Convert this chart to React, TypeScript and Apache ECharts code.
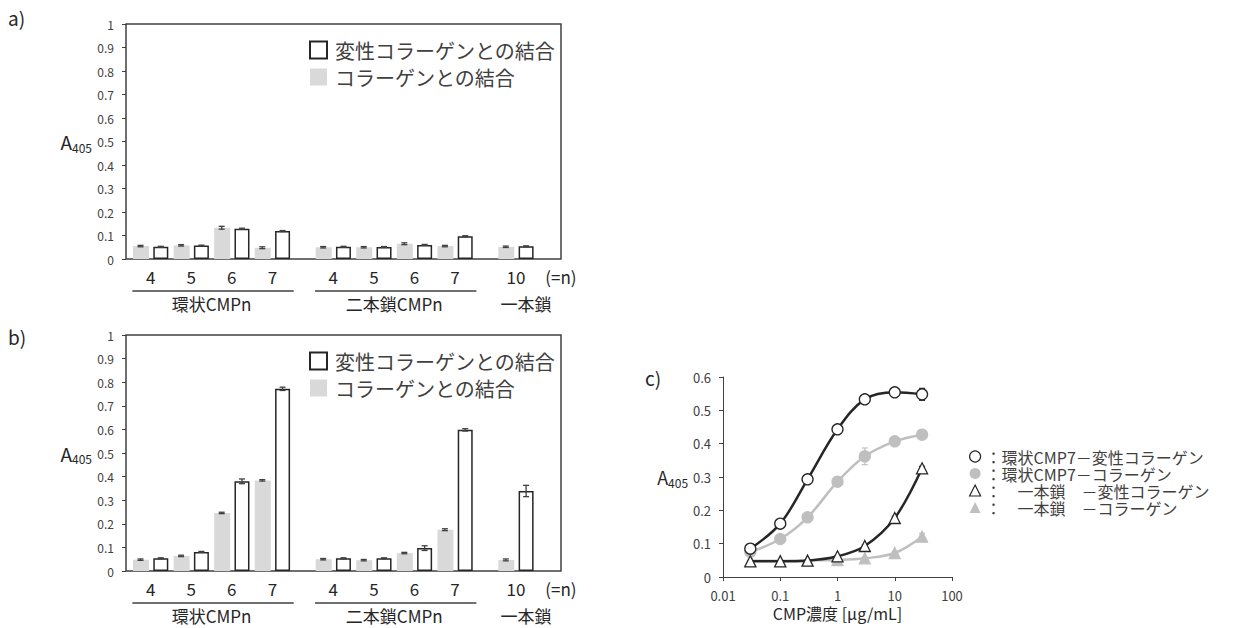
import React, { useEffect, useRef } from 'react';
import * as echarts from 'echarts';

// ---------- data ----------
const nLabels = ['4', '5', '6', '7', '4', '5', '6', '7', '10'];
const groupOfItem = [0, 0, 0, 0, 1, 1, 1, 1, 2];
const groupNames = ['環状CMPn', '二本鎖CMPn', '一本鎖'];
const groupUnderlined = [true, true, false];
const nUnitLabel = '(=n)';
const barLegendNames = ['変性コラーゲンとの結合', 'コラーゲンとの結合'];

// panel a
const aCollagen = [0.055, 0.058, 0.133, 0.048, 0.050, 0.050, 0.065, 0.055, 0.052];
const aCollagenErr = [0.003, 0.003, 0.006, 0.004, 0.003, 0.003, 0.004, 0.003, 0.003];
const aDenatured = [0.052, 0.057, 0.129, 0.119, 0.052, 0.051, 0.060, 0.097, 0.054];
const aDenaturedErr = [0.002, 0.002, 0.002, 0.002, 0.002, 0.002, 0.002, 0.002, 0.002];
// panel b
const bCollagen = [0.048, 0.064, 0.246, 0.384, 0.050, 0.046, 0.076, 0.175, 0.047];
const bCollagenErr = [0.003, 0.003, 0.003, 0.003, 0.003, 0.003, 0.003, 0.004, 0.004];
const bDenatured = [0.054, 0.081, 0.380, 0.772, 0.054, 0.054, 0.097, 0.598, 0.339];
const bDenaturedErr = [0.002, 0.002, 0.010, 0.007, 0.002, 0.002, 0.010, 0.005, 0.024];

// panel c
const conc = [0.03, 0.1, 0.3, 1, 3, 10, 30];
const cNames = [
  '：環状CMP7－変性コラーゲン',
  '：環状CMP7－コラーゲン',
  '：　一本鎖　－変性コラーゲン',
  '：　一本鎖　－コラーゲン',
];
const cCycDenat = [0.085, 0.160, 0.293, 0.443, 0.533, 0.554, 0.548];
const cCycDenatErr = [0.003, 0.004, 0.006, 0.005, 0.006, 0.005, 0.018];
const cCycColl = [0.075, 0.114, 0.179, 0.286, 0.362, 0.407, 0.427];
const cCycCollErr = [0.003, 0.004, 0.011, 0.006, 0.025, 0.012, 0.005];
const cSingleDenat = [0.047, 0.047, 0.049, 0.062, 0.093, 0.177, 0.326];
const cSingleDenatErr = [0.002, 0.002, 0.002, 0.003, 0.004, 0.005, 0.006];
const cSingleColl = [0.049, 0.049, 0.050, 0.051, 0.056, 0.072, 0.121];
const cSingleCollErr = [0.002, 0.002, 0.002, 0.002, 0.003, 0.004, 0.010];

// ---------- layout / style ----------
const FONT = "'Noto Sans CJK JP', 'Noto Sans', sans-serif";
const X_MIN = 0.285;
const X_MAX = 21.72;
const DARK = '#262626';
const AXIS = '#404040';
const GRAY = '#d9d9d9';
const CGRAY = '#bfbfbf';
const groupLabelShift = [0, 0, 0.5];

const slotOf = (i: number) => 1 + 2 * i + groupOfItem[i];
const pairCenter = (i: number) => slotOf(i) + 0.5;

const nLabelMap: Record<string, string> = {};
nLabels.forEach((l, i) => { nLabelMap[pairCenter(i).toFixed(3)] = l; });
nLabelMap[(X_MAX - 0.001).toFixed(3)] = nUnitLabel;
const nLabelValues = [...nLabels.map((_, i) => pairCenter(i)), X_MAX - 0.001];

const groupCenters = groupNames.map((_, g) => {
  const idx = groupOfItem.map((gg, i) => (gg === g ? i : -1)).filter((i) => i >= 0);
  const c = idx.reduce((s, i) => s + pairCenter(i), 0) / idx.length;
  return c + groupLabelShift[g];
});
const groupLabelMap: Record<string, string> = {};
groupNames.forEach((n, g) => { groupLabelMap[groupCenters[g].toFixed(3)] = n; });

const errRender = (color: string, cap: number, lw: number) => (_p: any, api: any) => {
  const x = api.value(0);
  const y = api.value(1);
  const e = api.value(2);
  const p1 = api.coord([x, y + e]);
  const p2 = api.coord([x, y - e]);
  const style = { stroke: color, lineWidth: lw };
  return {
    type: 'group',
    children: [
      { type: 'line', shape: { x1: p1[0], y1: p1[1], x2: p2[0], y2: p2[1] }, style },
      { type: 'line', shape: { x1: p1[0] - cap, y1: p1[1], x2: p1[0] + cap, y2: p1[1] }, style },
      { type: 'line', shape: { x1: p2[0] - cap, y1: p2[1], x2: p2[0] + cap, y2: p2[1] }, style },
    ],
  };
};

const yName = (size: number) => ({
  name: 'A{s|405}',
  nameLocation: 'middle',
  nameRotate: 0,
  nameTextStyle: {
    fontSize: size,
    lineHeight: size + 4,
    color: DARK,
    fontFamily: FONT,
    rich: { s: { fontSize: 12, lineHeight: 12, color: DARK, verticalAlign: 'bottom', fontFamily: FONT } },
  },
});

function barPanel(p: number, coll: number[], collErr: number[], den: number[], denErr: number[]) {
  const xa = p * 2;
  const ya = p;
  const series: any[] = [
    {
      type: 'bar', name: barLegendNames[1], xAxisIndex: xa, yAxisIndex: ya, barWidth: 16, barGap: '-100%',
      itemStyle: { color: GRAY },
      data: coll.map((v, i) => [slotOf(i), v]), z: 2,
    },
    {
      type: 'bar', name: barLegendNames[0], xAxisIndex: xa, yAxisIndex: ya, barWidth: 15, barGap: '-100%',
      itemStyle: { color: '#ffffff', borderColor: DARK, borderWidth: 1.5 },
      data: den.map((v, i) => [slotOf(i) + 1, v]), z: 2,
    },
    {
      type: 'custom', name: 'errColl' + p, xAxisIndex: xa, yAxisIndex: ya,
      renderItem: errRender(AXIS, 3, 1.3), encode: { x: 0, y: 1 },
      data: coll.map((v, i) => [slotOf(i), v, collErr[i]]), z: 5,
    },
    {
      type: 'custom', name: 'errDen' + p, xAxisIndex: xa, yAxisIndex: ya,
      renderItem: errRender(AXIS, 3, 1.3), encode: { x: 0, y: 1 },
      data: den.map((v, i) => [slotOf(i) + 1, v, denErr[i]]), z: 5,
    },
  ];
  const xAxes = [
    {
      type: 'value', gridIndex: p, min: X_MIN, max: X_MAX,
      axisLine: { show: false }, axisTick: { show: false }, splitLine: { show: false },
      axisLabel: {
        customValues: nLabelValues, margin: 9, fontSize: 17, color: DARK, fontFamily: FONT,
        formatter: (v: number) => nLabelMap[v.toFixed(3)] ?? '',
      },
    },
    {
      type: 'value', gridIndex: p, min: X_MIN, max: X_MAX, position: 'bottom', offset: 28,
      axisLine: { show: false }, axisTick: { show: false }, splitLine: { show: false },
      axisLabel: {
        customValues: groupCenters, margin: 8, fontSize: 17, lineHeight: 17, color: DARK, fontFamily: FONT,
        formatter: (v: number) => groupLabelMap[v.toFixed(3)] ?? '',
      },
    },
  ];
  const yAxis = {
    type: 'value', gridIndex: p, min: 0, max: 1, interval: 0.1,
    ...yName(19), nameGap: 34,
    axisLine: { show: false },
    axisTick: { show: true, length: 4, lineStyle: { color: AXIS, width: 1 } },
    splitLine: { show: false },
    axisLabel: { fontSize: 12, color: AXIS, margin: 12, fontFamily: FONT },
  };
  const legend = {
    orient: 'vertical', left: 304, top: p === 0 ? 35 : 346,
    itemWidth: 17, itemHeight: 17, itemGap: 7, selectedMode: false,
    textStyle: { fontSize: 20, lineHeight: 20, color: AXIS, fontFamily: FONT, padding: [0, 0, 0, 3] },
    data: [
      { name: barLegendNames[0], icon: 'rect', itemStyle: { color: '#ffffff', borderColor: DARK, borderWidth: 2 } },
      { name: barLegendNames[1], icon: 'rect', itemStyle: { color: GRAY, borderWidth: 0 } },
    ],
  };
  return { series, xAxes, yAxis, legend };
}

function lineSeries(name: string, vals: number[], errs: number[], symbol: string, fill: string, lineColor: string, z: number) {
  return [
    {
      type: 'custom', name: name + '-err', xAxisIndex: 4, yAxisIndex: 2,
      renderItem: errRender(lineColor, 3, 1.2), encode: { x: 0, y: 1 },
      data: conc.map((x, i) => [x, vals[i], errs[i]]), z: z - 1,
    },
    {
      type: 'line', name, xAxisIndex: 4, yAxisIndex: 2, smooth: 0.35,
      symbol, symbolSize: 11, showAllSymbol: true,
      lineStyle: { color: lineColor, width: 2.5 },
      itemStyle: { color: fill, borderColor: fill === '#ffffff' ? DARK : fill, borderWidth: 1.3 },
      data: conc.map((x, i) => [x, vals[i]]), z,
    },
  ];
}

function buildOption() {
  const pa = barPanel(0, aCollagen, aCollagenErr, aDenatured, aDenaturedErr);
  const pb = barPanel(1, bCollagen, bCollagenErr, bDenatured, bDenaturedErr);
  const cSeries = [
    ...lineSeries(cNames[1], cCycColl, cCycCollErr, 'circle', CGRAY, CGRAY, 4),
    ...lineSeries(cNames[3], cSingleColl, cSingleCollErr, 'triangle', CGRAY, CGRAY, 4),
    ...lineSeries(cNames[2], cSingleDenat, cSingleDenatErr, 'triangle', '#ffffff', DARK, 8),
    ...lineSeries(cNames[0], cCycDenat, cCycDenatErr, 'circle', '#ffffff', DARK, 8),
  ];
  return {
    animation: false,
    backgroundColor: '#ffffff',
    textStyle: { fontFamily: FONT },
    grid: [
      { left: 126, top: 24, width: 435, height: 235, show: true, borderColor: AXIS, borderWidth: 1.5, backgroundColor: 'transparent' },
      { left: 126, top: 335, width: 435, height: 236, show: true, borderColor: AXIS, borderWidth: 1.5, backgroundColor: 'transparent' },
      { left: 723, top: 377, width: 229, height: 200 },
    ],
    xAxis: [
      ...pa.xAxes,
      ...pb.xAxes,
      {
        type: 'log', logBase: 10, gridIndex: 2, min: 0.01, max: 100,
        name: 'CMP濃度 [µg/mL]', nameLocation: 'middle', nameGap: 28,
        nameTextStyle: { fontSize: 16, color: DARK, fontFamily: FONT },
        axisLine: { show: true, lineStyle: { color: AXIS, width: 1 } },
        axisTick: { show: true, length: 4, lineStyle: { color: AXIS } },
        splitLine: { show: false }, minorTick: { show: false },
        axisLabel: { fontSize: 13, color: AXIS, margin: 12, fontFamily: FONT },
      },
    ],
    yAxis: [
      pa.yAxis,
      pb.yAxis,
      {
        type: 'value', gridIndex: 2, min: 0, max: 0.6, interval: 0.1,
        ...yName(18), nameGap: 33,
        axisLine: { show: true, lineStyle: { color: AXIS, width: 1 } },
        axisTick: { show: true, length: 4, lineStyle: { color: AXIS } },
        splitLine: { show: false },
        axisLabel: { fontSize: 13, color: AXIS, margin: 12, fontFamily: FONT },
      },
    ],
    legend: [
      pa.legend,
      pb.legend,
      {
        orient: 'vertical', left: 964, top: 443, itemWidth: 11, itemHeight: 11, itemGap: 0,
        selectedMode: false,
        textStyle: { fontSize: 16, lineHeight: 17, color: AXIS, fontFamily: FONT },
        data: [
          { name: cNames[0], icon: 'circle', itemStyle: { color: '#ffffff', borderColor: DARK, borderWidth: 1.2 } },
          { name: cNames[1], icon: 'circle', itemStyle: { color: CGRAY, borderWidth: 0 } },
          { name: cNames[2], icon: 'triangle', itemStyle: { color: '#ffffff', borderColor: DARK, borderWidth: 1.2 } },
          { name: cNames[3], icon: 'triangle', itemStyle: { color: CGRAY, borderWidth: 0 } },
        ],
      },
    ],
    series: [...pa.series, ...pb.series, ...cSeries],
  };
}

function buildGraphic(chart: any) {
  const g: any[] = [];
  const tag = (id: string, text: string, x: number, y: number) => ({
    type: 'text', id, x, y,
    style: { text, fontSize: 19, fill: DARK, fontFamily: FONT, textVerticalAlign: 'middle' },
  });
  g.push(tag('ta', 'a)', 8, 17));
  g.push(tag('tb', 'b)', 8, 336));
  g.push(tag('tc', 'c)', 645, 377));
  [0, 1].forEach((p) => {
    const yBase = chart.convertToPixel({ yAxisIndex: p }, 0) + 32;
    groupNames.forEach((_, gi) => {
      if (!groupUnderlined[gi]) return;
      const idx = groupOfItem.map((gg, i) => (gg === gi ? i : -1)).filter((i) => i >= 0);
      const first = slotOf(idx[0]) - 0.4;
      const last = slotOf(idx[idx.length - 1]) + 1 + 0.55;
      const x1 = chart.convertToPixel({ xAxisIndex: p * 2 }, first);
      const x2 = chart.convertToPixel({ xAxisIndex: p * 2 }, last);
      g.push({
        type: 'line', id: 'ul' + p + '_' + gi,
        shape: { x1, y1: yBase, x2, y2: yBase },
        style: { stroke: AXIS, lineWidth: 1.5 },
      });
    });
  });
  return g;
}

export default function App() {
  const ref = useRef<HTMLDivElement>(null);
  useEffect(() => {
    const chart = echarts.init(ref.current!, null, { renderer: 'svg' });
    chart.setOption(buildOption() as any);
    chart.setOption({ graphic: buildGraphic(chart) } as any);
    return () => chart.dispose();
  }, []);
  return (
    <div
      ref={ref}
      style={{ position: 'absolute', left: 0, top: 0, width: 1236, height: 628, background: '#fff' }}
    />
  );
}
